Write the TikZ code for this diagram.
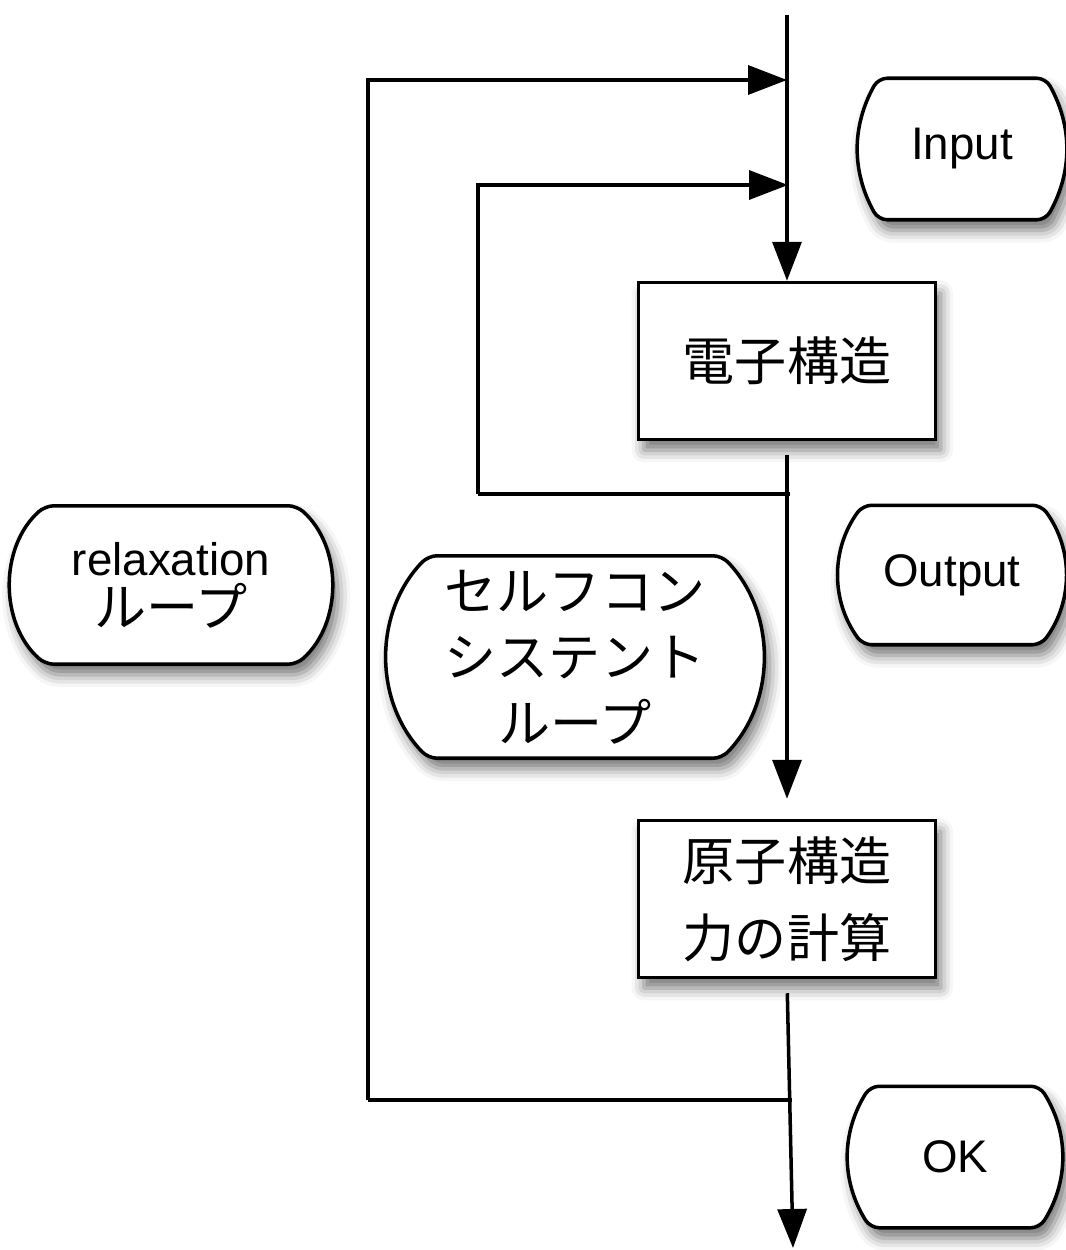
\documentclass[tikz,border=0pt]{standalone}
\usepackage{fontspec}
\setmainfont{Liberation Sans}
\newfontfamily\jp{Noto Sans CJK JP}[Scale=1.14]
\usetikzlibrary{arrows.meta, positioning, shapes, shadows.blur, backgrounds}

\begin{document}
\begin{tikzpicture}[x=0.02cm, y=-0.02cm, >={Triangle[length=0.78cm, width=0.58cm]}, line width=2pt]
        \tikzset{procbox/.style={rectangle, draw, fill=white, line width=2pt, minimum width=5.94cm, minimum height=3.14cm, inner sep=0pt, align=center,
                     blur shadow={shadow xshift=3pt, shadow yshift=-6pt, shadow blur radius=7pt, shadow opacity=55}},
                 termnode/.style={rectangle, inner sep=0pt, align=center},
                 termline/.style={draw, fill=white, line width=2pt, rounded corners=5pt,
                     blur shadow={shadow xshift=3pt, shadow yshift=-6pt, shadow blur radius=7pt, shadow opacity=55}}}
        \useasboundingbox (0,0) rectangle (1065,1250);
        \fontsize{26}{29}\selectfont

        \coordinate (top) at (787,15);
        \coordinate (j1) at (787,80);
        \coordinate (j2) at (788,185);
        \coordinate (s1) at (790,494);
        \coordinate (s2) at (792,1100);
        \coordinate (bottom) at (793,1248);
        \coordinate (c1) at (368,1100);
        \coordinate (c2) at (478,494);

        \draw[->] (c1) |- (j1);
        \draw (s2) -- (c1);
        \draw[->] (c2) |- (j2);
        \draw (s1) -- (c2);

        \node[procbox, font=\fontsize{26}{29}\selectfont] (elec) at (787,361) {\jp 電子構造};
        \node[procbox, font=\fontsize{26}{44}\selectfont] (atom) at (787,899) {\jp 原子構造\\\jp 力の計算};

        \draw[->] (top) -- (elec.north);
        \draw[->, shorten <=0.28cm, shorten >=0.4cm] (elec.south) -- (atom.north);
        \draw[->, shorten <=0.28cm] (atom.south) -- (bottom);

        \node[termnode, minimum width=3.28cm, minimum height=2.76cm] (input) at (962,149) {Input};
        \node[termnode, minimum width=3.5cm, minimum height=2.72cm] (output) at (952,575) {Output};
        \node[termnode, minimum width=3.32cm, minimum height=2.76cm] (ok) at (955,1157) {OK};
        \node[termnode, minimum width=4.96cm, minimum height=3.1cm, font=\fontsize{26}{29}\selectfont] (relax) at (171,585) {relaxation\\{\jp ループ}};
        \node[termnode, minimum width=5.8cm, minimum height=3.98cm, font=\fontsize{26}{37.5}\selectfont] (scf) at (575,657) {\jp セルフコン\\\jp システント\\\jp ループ};

        \begin{scope}[on background layer]
            \foreach \n/\a in {input/61, output/54, ok/58, relax/42, scf/46}
                \draw[termline] (\n.north) -- (\n.north east) to[out=-\a, in=\a] (\n.south east)
                    -- (\n.south west) to[out=180-\a, in=\a-180] (\n.north west) -- cycle;
        \end{scope}
    \end{tikzpicture}
\end{document}
